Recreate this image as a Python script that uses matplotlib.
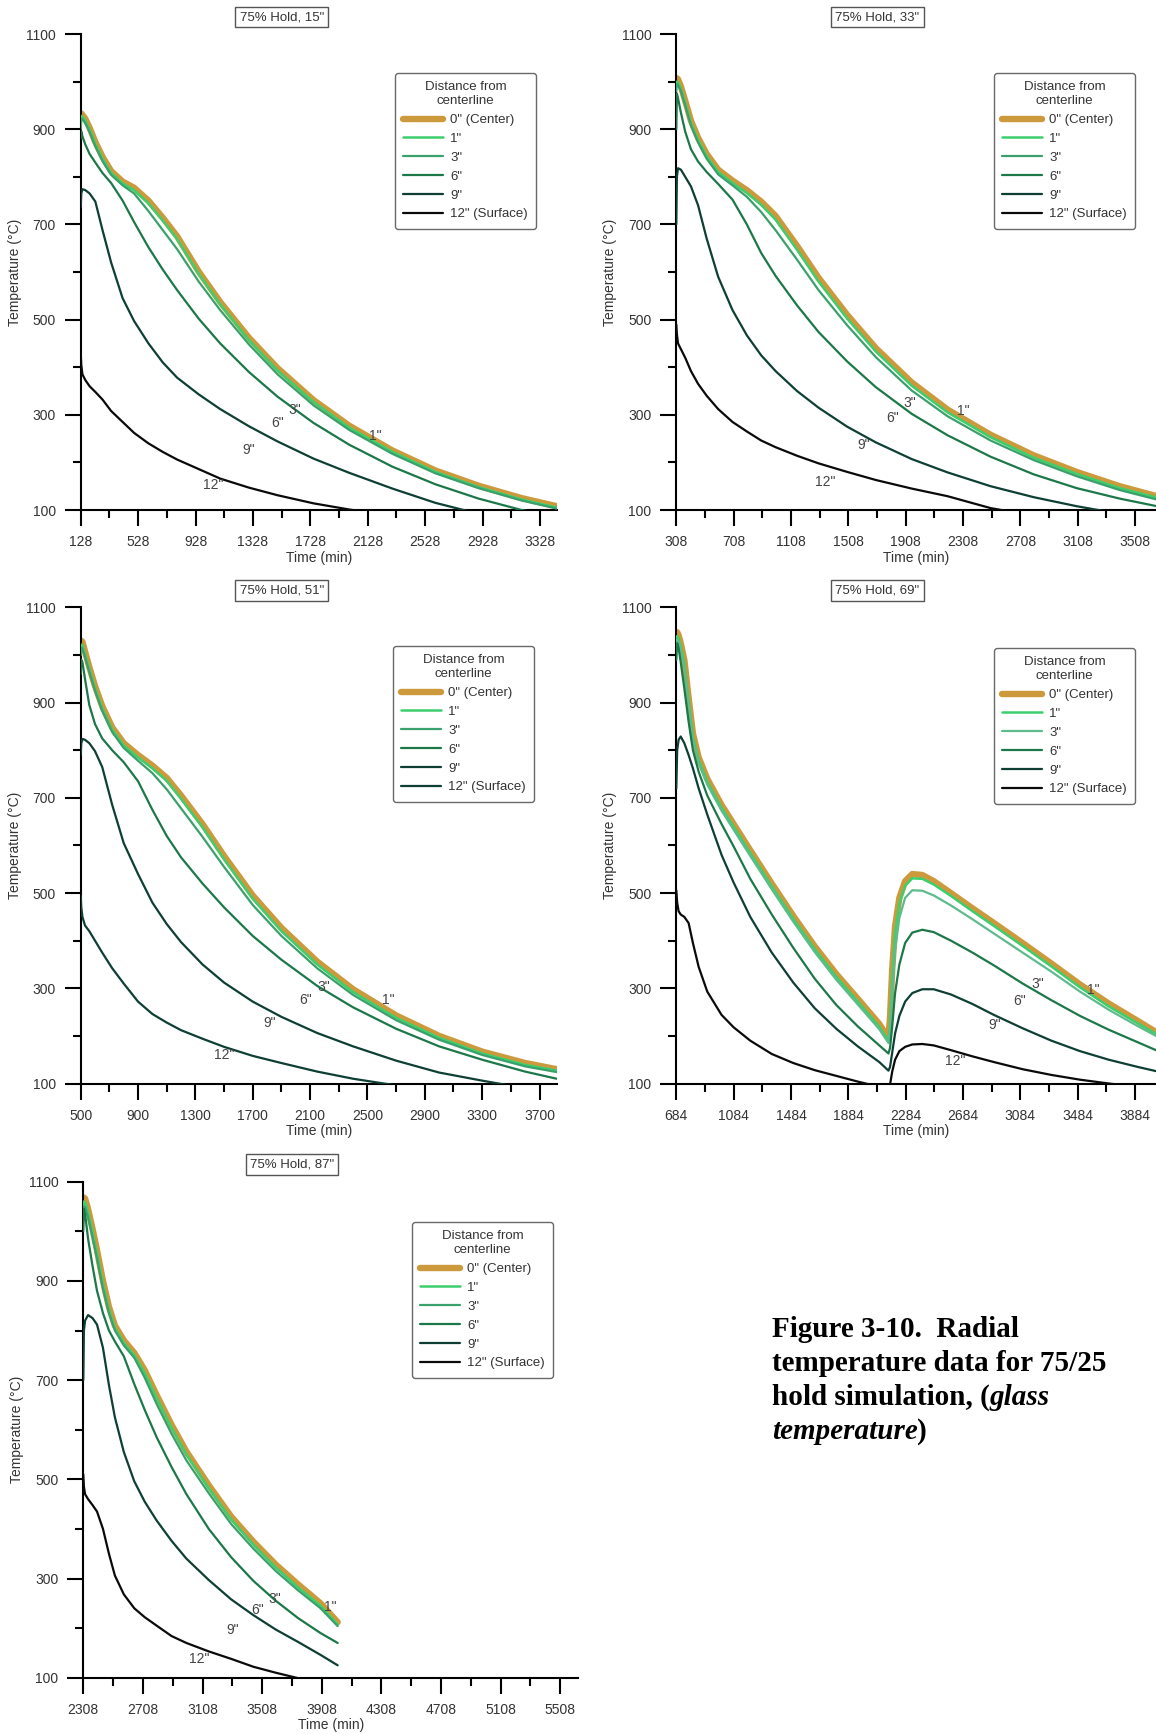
import numpy as np
import matplotlib.pyplot as plt

plt.rcParams['font.family'] = ['Liberation Sans', 'DejaVu Sans']

W, H = 1156, 1734

# ---- data ----
names = ['0" (Center)', '1"', '3"', '6"', '9"', '12" (Surface)']
short = ['0"', '1"', '3"', '6"', '9"', '12"']

# 15" hold
t15 = [128, 132, 140, 160, 190, 230, 280, 340, 420, 500, 600, 700, 800, 950, 1100, 1300, 1500, 1750, 2000, 2300, 2600, 2900, 3200, 3445]
y15_0 = [930, 933, 930, 922, 903, 873, 842, 812, 790, 777, 750, 714, 675, 601, 537, 462, 398, 331, 277, 225, 183, 151, 125, 108]
y15_1 = [915, 928, 926, 918, 899, 869, 838, 808, 786, 772, 744, 708, 669, 596, 532, 457, 393, 327, 273, 222, 180, 148, 122, 105]
y15_3 = [900, 922, 921, 913, 894, 864, 833, 804, 782, 765, 728, 688, 648, 580, 520, 448, 385, 320, 268, 218, 177, 146, 120, 103]
y15_6 = [880, 895, 885, 868, 848, 830, 808, 787, 750, 705, 652, 605, 562, 502, 450, 390, 338, 283, 237, 191, 154, 124, 100, 86]
y15_9 = [736, 765, 774, 772, 765, 748, 688, 620, 545, 497, 450, 410, 378, 343, 312, 276, 244, 208, 178, 145, 115, 92, 78, 70]
y15_12 = [430, 405, 385, 373, 360, 348, 332, 308, 285, 262, 240, 222, 206, 186, 166, 147, 131, 114, 101, 88, 77, 67, 59, 53]

# 33" hold
t33 = [308, 312, 320, 340, 370, 410, 460, 520, 600, 700, 800, 900, 1000, 1150, 1300, 1500, 1700, 1950, 2200, 2500, 2800, 3100, 3400, 3660]
y33_0 = [1000, 1007, 1005, 990, 960, 918, 882, 848, 815, 792, 772, 748, 718, 655, 588, 510, 440, 368, 311, 258, 215, 180, 150, 129]
y33_1 = [990, 1000, 998, 985, 955, 913, 877, 843, 810, 787, 766, 741, 710, 647, 580, 502, 433, 361, 305, 253, 210, 176, 146, 126]
y33_3 = [980, 995, 993, 980, 950, 908, 872, 838, 805, 782, 758, 726, 688, 626, 562, 488, 421, 351, 297, 246, 205, 171, 142, 122]
y33_6 = [900, 975, 965, 935, 895, 858, 832, 810, 785, 752, 700, 640, 592, 530, 474, 412, 358, 302, 257, 212, 175, 146, 124, 108]
y33_9 = [700, 800, 818, 815, 800, 780, 740, 670, 590, 520, 467, 425, 392, 350, 315, 275, 242, 207, 179, 150, 127, 108, 92, 80]
y33_12 = [490, 470, 450, 438, 420, 392, 365, 340, 312, 285, 265, 246, 232, 214, 198, 180, 163, 145, 129, 104, 88, 76, 68, 62]

# 51" hold
t51 = [500, 504, 512, 530, 560, 600, 650, 720, 800, 900, 1000, 1100, 1200, 1350, 1500, 1700, 1900, 2150, 2400, 2700, 3000, 3300, 3600, 3820]
y51_0 = [1025, 1030, 1028, 1008, 975, 935, 893, 848, 815, 790, 768, 742, 705, 645, 578, 495, 427, 356, 298, 243, 200, 167, 143, 130]
y51_1 = [1010, 1022, 1021, 1002, 970, 930, 888, 843, 810, 785, 762, 736, 698, 638, 571, 488, 420, 350, 292, 238, 196, 163, 139, 127]
y51_3 = [1000, 1015, 1014, 996, 964, 925, 883, 838, 805, 778, 752, 718, 678, 618, 555, 475, 410, 342, 286, 233, 192, 160, 136, 124]
y51_6 = [960, 990, 985, 950, 895, 855, 825, 800, 775, 735, 675, 620, 575, 520, 470, 410, 360, 305, 260, 215, 178, 150, 125, 110]
y51_9 = [790, 815, 824, 822, 815, 798, 765, 685, 605, 540, 480, 435, 397, 350, 312, 272, 240, 206, 178, 148, 123, 106, 90, 82]
y51_12 = [495, 470, 450, 432, 420, 400, 375, 342, 310, 272, 246, 228, 212, 194, 177, 158, 143, 125, 110, 96, 85, 76, 69, 65]

# 69" hold (reheat near 2164 min)
t69 = [684, 690, 700, 715, 740, 770, 800, 840, 900, 1000, 1084, 1200, 1350, 1500, 1650, 1800, 1950, 2100, 2164, 2175,
       2190, 2210, 2240, 2280, 2330, 2400, 2480, 2600, 2750, 2900, 3100, 3300, 3500, 3700, 3900, 4030]
y69_0 = [1040, 1048, 1042, 1025, 990, 910, 835, 785, 740, 685, 645, 590, 520, 452, 388, 330, 278, 225, 195, 240,
         340, 430, 490, 525, 540, 538, 525, 500, 468, 437, 395, 352, 308, 268, 232, 208]
y69_1 = [1030, 1040, 1035, 1018, 982, 903, 828, 779, 734, 679, 639, 584, 514, 446, 382, 324, 272, 219, 190, 225,
         320, 415, 478, 515, 531, 530, 518, 494, 462, 431, 389, 346, 302, 262, 227, 204]
y69_3 = [1020, 1032, 1028, 1010, 975, 897, 822, 773, 728, 673, 633, 578, 508, 440, 376, 318, 266, 214, 185, 210,
         290, 380, 448, 490, 506, 505, 495, 474, 445, 415, 375, 335, 293, 255, 221, 200]
y69_6 = [990, 1025, 1015, 985, 930, 860, 800, 755, 705, 645, 598, 530, 455, 385, 320, 265, 220, 180, 163, 175,
         220, 290, 350, 395, 417, 423, 418, 400, 375, 348, 310, 275, 242, 213, 187, 170]
y69_9 = [720, 800, 822, 829, 815, 790, 762, 720, 665, 580, 522, 450, 375, 312, 258, 215, 178, 145, 127, 135,
         165, 205, 242, 272, 290, 298, 298, 287, 267, 244, 216, 190, 168, 150, 135, 126]
y69_12 = [506, 480, 462, 455, 450, 437, 395, 345, 293, 244, 218, 190, 162, 143, 128, 116, 104, 93, 88, 98,
          125, 150, 168, 177, 182, 183, 180, 170, 157, 145, 130, 118, 108, 100, 93, 89]

# 87" hold
t87 = [2308, 2312, 2320, 2340, 2370, 2400, 2440, 2480, 2520, 2580, 2650, 2720, 2800, 2900, 3000, 3150, 3300, 3450, 3600, 3750, 3900, 4015]
y87_0 = [1060, 1068, 1066, 1045, 1005, 962, 900, 848, 810, 780, 755, 720, 670, 610, 556, 488, 425, 374, 328, 288, 250, 212]
y87_1 = [1045, 1060, 1058, 1038, 998, 955, 893, 842, 805, 775, 750, 714, 664, 604, 550, 482, 419, 368, 322, 282, 245, 207]
y87_3 = [1030, 1050, 1048, 1028, 988, 945, 884, 835, 800, 770, 745, 705, 652, 592, 538, 472, 410, 360, 315, 276, 240, 204]
y87_6 = [1000, 1045, 1035, 985, 930, 880, 835, 800, 778, 748, 692, 640, 585, 525, 470, 400, 343, 295, 255, 220, 190, 170]
y87_9 = [700, 800, 820, 831, 825, 812, 765, 690, 625, 555, 496, 455, 417, 376, 340, 297, 258, 226, 197, 172, 146, 125]
y87_12 = [510, 485, 470, 460, 448, 435, 400, 350, 306, 268, 240, 222, 205, 184, 170, 153, 138, 122, 110, 99, 90, 84]

titles = ['75% Hold, 15"', '75% Hold, 33"', '75% Hold, 51"', '75% Hold, 69"', '75% Hold, 87"']
xstarts = [128, 308, 500, 684, 2308]
times = [t15, t33, t51, t69, t87]
series = [
    [y15_0, y15_1, y15_3, y15_6, y15_9, y15_12],
    [y33_0, y33_1, y33_3, y33_6, y33_9, y33_12],
    [y51_0, y51_1, y51_3, y51_6, y51_9, y51_12],
    [y69_0, y69_1, y69_3, y69_6, y69_9, y69_12],
    [y87_0, y87_1, y87_3, y87_6, y87_9, y87_12],
]

# in-plot curve labels (1", 3", 6", 9", 12")
lab_x = [[2182, 1616, 1500, 1299, 1049],
         [2308, 1936, 1816, 1616, 1346],
         [2644, 2194, 2065, 1820, 1499],
         [3594, 3204, 3081, 2902, 2628],
         [3964, 3595, 3479, 3310, 3086]]
lab_y = [[255, 311, 282, 226, 152],
         [308, 324, 293, 236, 159],
         [275, 302, 275, 228, 160],
         [296, 310, 273, 222, 147],
         [242, 259, 236, 196, 137]]

# ---- layout (pixels) ----
# left, right, top, bottom of each axes
boxes = [(80.7, 557, 34, 510), (676.3, 1156, 34, 510),
         (80.7, 557, 607.5, 1083.5), (676.3, 1156, 607.5, 1083.5),
         (83.3, 578, 1181.7, 1677.7)]
xends = [3447, 3654, 3822, 4030, 5628]
leg_pos = [(395, 73), (994, 73), (393, 646), (994, 648), (412, 1222)]
xlab_off = [48, 48, 48, 48, 47]

colors = ['#CC9A3C', '#3DCF6E', '#3AA06C', '#1C7848', '#0E3F34', '#0A0A0A']
widths = [4.6, 1.8, 1.6, 1.6, 1.6, 1.6]
txtc = '#333333'

fig = plt.figure(figsize=(W / 100, H / 100), dpi=100)

for i in range(5):
    l, r, tp, bt = boxes[i]
    ax = fig.add_axes([l / W, 1 - bt / H, (r - l) / W, (bt - tp) / H])
    cols = list(colors)
    if i == 2:
        cols[5] = '#0E3F34'
    if i == 3:
        cols[2] = '#5DBB8C'
    hs = []
    for k in range(6):
        h, = ax.plot(times[i], series[i][k], color=cols[k], lw=widths[k],
                     solid_capstyle='round', zorder=2 + k)
        hs.append(h)
    x0 = xstarts[i]
    ax.set_xlim(x0, xends[i])
    ax.set_ylim(100, 1100)
    ax.set_xticks(np.arange(x0, xends[i], 400))
    ax.set_xticks(np.arange(x0 + 200, xends[i], 400), minor=True)
    ax.set_yticks(np.arange(100, 1101, 200))
    ax.set_yticks(np.arange(200, 1100, 200), minor=True)
    ax.tick_params(which='major', direction='out', length=11.5, width=1.5,
                   labelsize=10, labelcolor=txtc, pad=6.5)
    ax.tick_params(which='minor', direction='out', length=6, width=1.5)
    for s in ['top', 'right']:
        ax.spines[s].set_visible(False)
    for s in ['left', 'bottom']:
        ax.spines[s].set_linewidth(1.5)
    ax.set_xlabel('Time (min)', fontsize=10, color=txtc, va='center')
    ax.set_ylabel('Temperature (°C)', fontsize=10, color=txtc, va='center')
    ax.xaxis.set_label_coords(0.5, -xlab_off[i] / (bt - tp))
    ax.yaxis.set_label_coords(-66 / (r - l), 0.5)

    for k in range(5):
        ax.text(lab_x[i][k], lab_y[i][k], short[k + 1], fontsize=10, color='#444444',
                ha='center', va='center', zorder=10)

    # title box
    fig.text((l + 201 * (r - l) / 476.3 if i == 4 else l + 201) / W, 1 - (tp - 17) / H, titles[i],
             fontsize=9.5, color=txtc, ha='center', va='center',
             bbox=dict(boxstyle='square,pad=0.33', fc='white', ec='#555555', lw=1))

    lx, ly = leg_pos[i]
    leg = ax.legend(hs, names, title='Distance from\ncenterline', loc='upper left',
                    bbox_to_anchor=(lx / W, 1 - ly / H), bbox_transform=fig.transFigure,
                    fontsize=9.5, title_fontsize=9.5, frameon=True, fancybox=True,
                    edgecolor='#444444', handlelength=3.0, handletextpad=0.55,
                    labelspacing=0.5, borderpad=0.62, borderaxespad=0)
    leg.get_frame().set_linewidth(1.0)
    leg.get_title().set_color(txtc)
    leg.get_title().set_multialignment('center')
    leg.get_title().set_linespacing(1.25)
    for tx in leg.get_texts():
        tx.set_color(txtc)

# ---- caption ----
cap_x = 771.7 / W
fs = 21
serif = ['Liberation Serif', 'DejaVu Serif']
base = [1337, 1371, 1405, 1439]
fig.text(cap_x, 1 - base[0] / H, 'Figure 3-10.  Radial', fontsize=fs, family=serif,
         weight='bold', va='baseline')
fig.text(cap_x, 1 - base[1] / H, 'temperature data for 75/25', fontsize=fs, family=serif,
         weight='bold', va='baseline')
t1 = fig.text(cap_x, 1 - base[2] / H, 'hold simulation, (', fontsize=fs, family=serif,
              weight='bold', va='baseline')
t2 = fig.text(cap_x, 1 - base[3] / H, 'temperature', fontsize=fs, family=serif,
              weight='bold', style='italic', va='baseline')
fig.canvas.draw()
r = fig.canvas.get_renderer()
b1 = t1.get_window_extent(r)
b2 = t2.get_window_extent(r)
fig.text(b1.x1 / W, 1 - base[2] / H, 'glass', fontsize=fs, family=serif,
         weight='bold', style='italic', va='baseline')
fig.text(b2.x1 / W, 1 - base[3] / H, ')', fontsize=fs, family=serif,
         weight='bold', va='baseline')

fig.savefig('out.png', dpi=100)
